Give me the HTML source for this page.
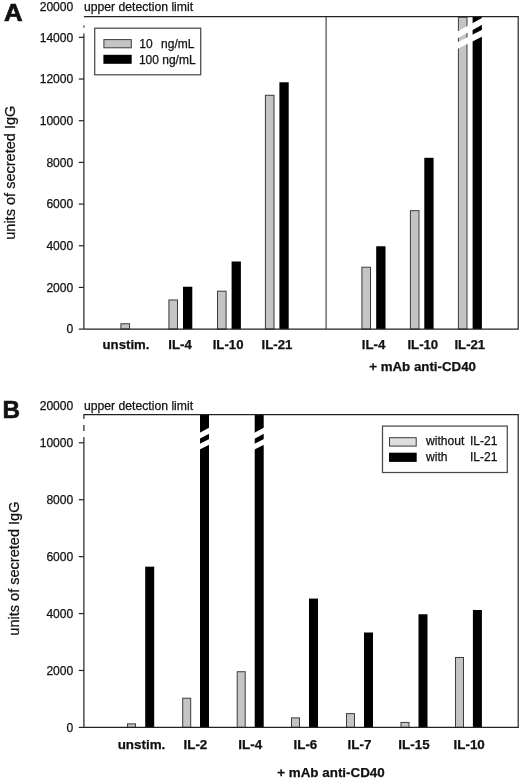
<!DOCTYPE html><html><head><meta charset="utf-8"><style>html,body{margin:0;padding:0;background:#fff}svg{display:block;will-change:transform}text{font-family:"Liberation Sans",sans-serif;fill:#111;stroke:#111;stroke-width:0.25px}</style></head><body>
<svg width="520" height="779" viewBox="0 0 520 779">
<rect width="520" height="779" fill="#fff"/>
<rect x="120.9" y="323.76" width="8.6" height="5.34" fill="#c4c4c4" stroke="#3c3c3c" stroke-width="1"/>
<rect x="168.9" y="299.97" width="8.6" height="29.13" fill="#c4c4c4" stroke="#3c3c3c" stroke-width="1"/>
<rect x="183" y="286.75" width="9.3" height="42.35" fill="#000"/>
<rect x="217.5" y="291.21" width="8.6" height="37.89" fill="#c4c4c4" stroke="#3c3c3c" stroke-width="1"/>
<rect x="231.6" y="261.5" width="9.3" height="67.6" fill="#000"/>
<rect x="265.4" y="95.29" width="8.6" height="233.81" fill="#c4c4c4" stroke="#3c3c3c" stroke-width="1"/>
<rect x="279.4" y="82.28" width="9.3" height="246.82" fill="#000"/>
<rect x="361.9" y="267.22" width="8.6" height="61.88" fill="#c4c4c4" stroke="#3c3c3c" stroke-width="1"/>
<rect x="376.2" y="246.27" width="9.3" height="82.83" fill="#000"/>
<rect x="410.4" y="210.67" width="8.6" height="118.43" fill="#c4c4c4" stroke="#3c3c3c" stroke-width="1"/>
<rect x="424.3" y="157.8" width="9.3" height="171.3" fill="#000"/>
<rect x="458.4" y="17.2" width="8.6" height="311.9" fill="#c4c4c4" stroke="#3c3c3c" stroke-width="1"/>
<rect x="472.6" y="16.7" width="9.3" height="312.4" fill="#000"/>
<line x1="452" y1="37.94" x2="488" y2="18.18" stroke="#fff" stroke-width="6.1"/>
<line x1="452" y1="48.35" x2="488" y2="30.25" stroke="#fff" stroke-width="6.1"/>
<path d="M83.9 16.7 H518.2 V329.1 H83.9" fill="none" stroke="#222" stroke-width="1.2"/>
<line x1="83.9" y1="33.4" x2="83.9" y2="329.1" stroke="#222" stroke-width="1.2"/>
<line x1="83.9" y1="25.5" x2="83.9" y2="27.5" stroke="#222" stroke-width="1.2"/>
<line x1="326.1" y1="16.7" x2="326.1" y2="329.1" stroke="#3a3a3a" stroke-width="1.1"/>
<line x1="78.8" y1="329.1" x2="83.9" y2="329.1" stroke="#222" stroke-width="1.2"/>
<text x="73.3" y="333.4" font-size="12.1" text-anchor="end">0</text>
<line x1="78.8" y1="287.42" x2="83.9" y2="287.42" stroke="#222" stroke-width="1.2"/>
<text x="73.3" y="291.72" font-size="12.1" text-anchor="end">2000</text>
<line x1="78.8" y1="245.74" x2="83.9" y2="245.74" stroke="#222" stroke-width="1.2"/>
<text x="73.3" y="250.04" font-size="12.1" text-anchor="end">4000</text>
<line x1="78.8" y1="204.06" x2="83.9" y2="204.06" stroke="#222" stroke-width="1.2"/>
<text x="73.3" y="208.36" font-size="12.1" text-anchor="end">6000</text>
<line x1="78.8" y1="162.39" x2="83.9" y2="162.39" stroke="#222" stroke-width="1.2"/>
<text x="73.3" y="166.69" font-size="12.1" text-anchor="end">8000</text>
<line x1="78.8" y1="120.71" x2="83.9" y2="120.71" stroke="#222" stroke-width="1.2"/>
<text x="73.3" y="125.01" font-size="12.1" text-anchor="end">10000</text>
<line x1="78.8" y1="79.03" x2="83.9" y2="79.03" stroke="#222" stroke-width="1.2"/>
<text x="73.3" y="83.33" font-size="12.1" text-anchor="end">12000</text>
<line x1="78.8" y1="37.35" x2="83.9" y2="37.35" stroke="#222" stroke-width="1.2"/>
<text x="73.3" y="41.65" font-size="12.1" text-anchor="end">14000</text>
<text x="73.3" y="10.7" font-size="12.1" text-anchor="end">20000</text>
<text x="84" y="10.7" font-size="12.2">upper detection limit</text>
<text transform="translate(13.2,20.7) scale(1.08,1)" text-anchor="middle" font-size="23.8" font-weight="bold" style="stroke-width:0.7px">A</text>
<text transform="translate(15.4,172.7) rotate(-90) scale(0.945,1)" font-size="15.4" text-anchor="middle">units of secreted IgG</text>
<rect x="94.7" y="28.2" width="106" height="46.6" fill="#fff" stroke="#4a4a4a" stroke-width="1.25"/>
<rect x="103.9" y="39.6" width="27.4" height="8.2" fill="#c4c4c4" stroke="#3c3c3c" stroke-width="1"/>
<rect x="103.4" y="54.8" width="28.3" height="9" fill="#000"/>
<text x="139.3" y="48" font-size="12">10</text><text x="161.1" y="48" font-size="12">ng/mL</text>
<text x="138.9" y="63.5" font-size="12">100 ng/mL</text>
<text x="126" y="349.1" font-size="13.2" font-weight="bold" text-anchor="middle">unstim.</text>
<text x="180" y="349.1" font-size="13.2" font-weight="bold" text-anchor="middle">IL-4</text>
<text x="228.1" y="349.1" font-size="13.2" font-weight="bold" text-anchor="middle">IL-10</text>
<text x="277" y="349.1" font-size="13.2" font-weight="bold" text-anchor="middle">IL-21</text>
<text x="373.5" y="349.1" font-size="13.2" font-weight="bold" text-anchor="middle">IL-4</text>
<text x="422.8" y="349.1" font-size="13.2" font-weight="bold" text-anchor="middle">IL-10</text>
<text x="469.8" y="349.1" font-size="13.2" font-weight="bold" text-anchor="middle">IL-21</text>
<text x="422.6" y="370.8" font-size="13.3" font-weight="bold" text-anchor="middle">+ mAb anti-CD40</text>
<rect x="127.5" y="723.88" width="8" height="3.52" fill="#c4c4c4" stroke="#3c3c3c" stroke-width="1"/>
<rect x="145.2" y="566.66" width="9" height="160.74" fill="#000"/>
<rect x="182.7" y="698.23" width="8" height="29.17" fill="#c4c4c4" stroke="#3c3c3c" stroke-width="1"/>
<rect x="200" y="414.7" width="9" height="312.7" fill="#000"/>
<rect x="237.2" y="671.72" width="8" height="55.68" fill="#c4c4c4" stroke="#3c3c3c" stroke-width="1"/>
<rect x="254.7" y="414.7" width="9" height="312.7" fill="#000"/>
<rect x="291.5" y="717.89" width="8" height="9.5" fill="#c4c4c4" stroke="#3c3c3c" stroke-width="1"/>
<rect x="309" y="598.58" width="9" height="128.82" fill="#000"/>
<rect x="346.5" y="713.62" width="8" height="13.78" fill="#c4c4c4" stroke="#3c3c3c" stroke-width="1"/>
<rect x="364" y="632.5" width="9" height="94.9" fill="#000"/>
<rect x="401" y="722.45" width="8" height="4.95" fill="#c4c4c4" stroke="#3c3c3c" stroke-width="1"/>
<rect x="418.5" y="614.25" width="9" height="113.14" fill="#000"/>
<rect x="455.5" y="657.47" width="8" height="69.93" fill="#c4c4c4" stroke="#3c3c3c" stroke-width="1"/>
<rect x="472.9" y="609.98" width="9" height="117.42" fill="#000"/>
<line x1="196" y1="437.72" x2="213" y2="428.71" stroke="#fff" stroke-width="5.3"/>
<line x1="196" y1="448.5" x2="213" y2="440" stroke="#fff" stroke-width="5.3"/>
<line x1="250.7" y1="437.72" x2="267.7" y2="428.71" stroke="#fff" stroke-width="5.3"/>
<line x1="250.7" y1="448.5" x2="267.7" y2="440" stroke="#fff" stroke-width="5.3"/>
<path d="M83.9 418.9 V414.7 H518.2 V727.4 H83.9" fill="none" stroke="#222" stroke-width="1.2"/>
<line x1="83.9" y1="437" x2="83.9" y2="727.4" stroke="#222" stroke-width="1.2"/>
<line x1="83.9" y1="425" x2="83.9" y2="430.9" stroke="#222" stroke-width="1.2"/>
<line x1="78.8" y1="727.4" x2="83.9" y2="727.4" stroke="#222" stroke-width="1.2"/>
<text x="73.3" y="731.7" font-size="12.1" text-anchor="end">0</text>
<line x1="78.8" y1="670.48" x2="83.9" y2="670.48" stroke="#222" stroke-width="1.2"/>
<text x="73.3" y="674.78" font-size="12.1" text-anchor="end">2000</text>
<line x1="78.8" y1="613.56" x2="83.9" y2="613.56" stroke="#222" stroke-width="1.2"/>
<text x="73.3" y="617.86" font-size="12.1" text-anchor="end">4000</text>
<line x1="78.8" y1="556.64" x2="83.9" y2="556.64" stroke="#222" stroke-width="1.2"/>
<text x="73.3" y="560.94" font-size="12.1" text-anchor="end">6000</text>
<line x1="78.8" y1="499.72" x2="83.9" y2="499.72" stroke="#222" stroke-width="1.2"/>
<text x="73.3" y="504.02" font-size="12.1" text-anchor="end">8000</text>
<line x1="78.8" y1="442.8" x2="83.9" y2="442.8" stroke="#222" stroke-width="1.2"/>
<text x="73.3" y="447.1" font-size="12.1" text-anchor="end">10000</text>
<text x="73.3" y="409.6" font-size="12.1" text-anchor="end">20000</text>
<text x="84" y="409.6" font-size="12.2">upper detection limit</text>
<text x="11.3" y="417.5" text-anchor="middle" font-size="24.3" font-weight="bold" style="stroke-width:0.6px">B</text>
<text transform="translate(18.7,568.6) rotate(-90) scale(0.945,1)" font-size="15.4" text-anchor="middle">units of secreted IgG</text>
<rect x="382.5" y="426.1" width="124.8" height="46.4" fill="#fff" stroke="#4a4a4a" stroke-width="1.25"/>
<rect x="389.5" y="437.7" width="26.7" height="8.4" fill="#dedede" stroke="#3c3c3c" stroke-width="1"/>
<rect x="389" y="452.7" width="27.7" height="9.2" fill="#000"/>
<text x="426" y="445.3" font-size="12.1">without</text><text x="469.9" y="445.3" font-size="12.1">IL-21</text>
<text x="426" y="460.6" font-size="12.1">with</text><text x="469.9" y="460.6" font-size="12.1">IL-21</text>
<text x="141.5" y="749.4" font-size="13.4" font-weight="bold" text-anchor="middle">unstim.</text>
<text x="195.4" y="749.4" font-size="13.4" font-weight="bold" text-anchor="middle">IL-2</text>
<text x="250.2" y="749.4" font-size="13.4" font-weight="bold" text-anchor="middle">IL-4</text>
<text x="305.4" y="749.4" font-size="13.4" font-weight="bold" text-anchor="middle">IL-6</text>
<text x="359.5" y="749.4" font-size="13.4" font-weight="bold" text-anchor="middle">IL-7</text>
<text x="414" y="749.4" font-size="13.4" font-weight="bold" text-anchor="middle">IL-15</text>
<text x="469.2" y="749.4" font-size="13.4" font-weight="bold" text-anchor="middle">IL-10</text>
<text x="331" y="776.6" font-size="13.4" font-weight="bold" text-anchor="middle">+ mAb anti-CD40</text>
</svg></body></html>
